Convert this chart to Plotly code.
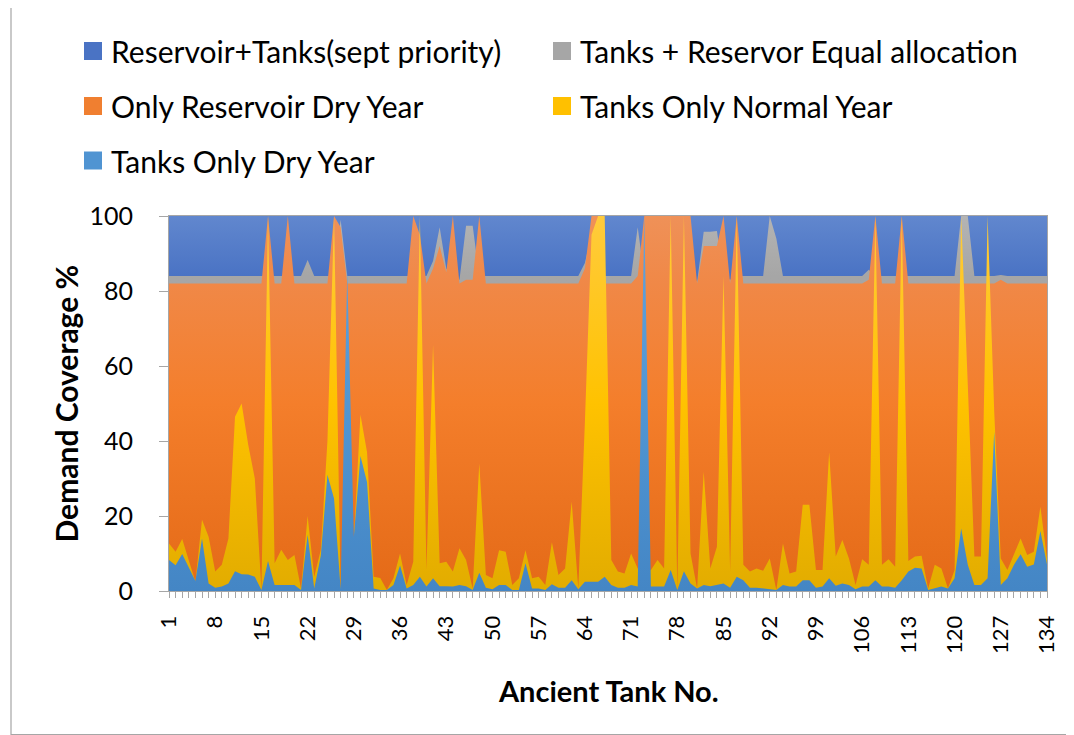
import plotly.graph_objects as go

# ---------------- data ----------------
tanks = list(range(1, 135))
tick_vals = [1, 8, 15, 22, 29, 36, 43, 50, 57, 64, 71, 78, 85, 92, 99, 106, 113, 120, 127, 134]
tick_text = [str(v) for v in tick_vals]

series_names = [
    "Reservoir+Tanks(sept priority)",
    "Tanks + Reservor Equal allocation",
    "Only Reservoir Dry Year",
    "Tanks Only Normal Year",
    "Tanks Only Dry Year",
]

reservoir_tanks_sept = [
    100, 100, 100, 100, 100, 100, 100, 100, 100, 100,
    100, 100, 100, 100, 100, 100, 100, 100, 100, 100,
    100, 100, 100, 100, 100, 100, 100, 100, 100, 100,
    100, 100, 100, 100, 100, 100, 100, 100, 100, 100,
    100, 100, 100, 100, 100, 100, 100, 100, 100, 100,
    100, 100, 100, 100, 100, 100, 100, 100, 100, 100,
    100, 100, 100, 100, 100, 100, 100, 100, 100, 100,
    100, 100, 100, 100, 100, 100, 100, 100, 100, 100,
    100, 100, 100, 100, 100, 100, 100, 100, 100, 100,
    100, 100, 100, 100, 100, 100, 100, 100, 100, 100,
    100, 100, 100, 100, 100, 100, 100, 100, 100, 100,
    100, 100, 100, 100, 100, 100, 100, 100, 100, 100,
    100, 100, 100, 100, 100, 100, 100, 100, 100, 100,
    100, 100, 100, 100,
]

tanks_reservoir_equal = [
    84, 84, 84, 84, 84, 84, 84, 84, 84, 84,
    84, 84, 84, 84, 84, 84, 84, 84, 84, 84,
    84, 88.3, 84, 84, 84, 84, 99, 84, 84, 84,
    84, 84, 84, 84, 84, 84, 84, 84, 84, 84,
    88, 97, 86, 84, 83, 97.4, 97.4, 84, 84, 84,
    84, 84, 84, 84, 84, 84, 84, 84, 84, 84,
    84, 84, 84, 87.5, 95, 84, 84, 84, 84, 84,
    84, 97, 84, 84, 84, 84, 84, 84, 84, 84,
    82.5, 95.8, 95.8, 96, 84, 83, 84, 84, 84, 84,
    84, 100, 94, 84, 84, 84, 84, 84, 84, 84,
    84, 84, 84, 84, 84, 84, 85.7, 84, 84, 84,
    84, 84, 84, 84, 84, 84, 84, 84, 84, 84,
    100, 100, 84, 84, 84, 84, 84.3, 84, 84, 84,
    84, 84, 84, 84,
]

only_reservoir_dry = [
    82, 82, 82, 82, 82, 82, 82, 82, 82, 82,
    82, 82, 82, 82, 82, 100, 82, 82, 100, 82,
    82, 82, 82, 82, 82, 100, 97, 82, 82, 82,
    82, 82, 82, 82, 82, 82, 82, 100, 95, 82,
    86, 92, 85, 100, 82, 83, 83, 100, 82, 82,
    82, 82, 82, 82, 82, 82, 82, 82, 82, 82,
    82, 82, 82, 86, 100, 100, 82, 82, 82, 82,
    82, 84, 100, 100, 100, 100, 100, 100, 100, 100,
    82, 92, 92, 92, 100, 82, 100, 82, 82, 82,
    82, 82, 82, 82, 82, 82, 82, 82, 82, 82,
    82, 82, 82, 82, 82, 82, 83, 100, 82, 82,
    82, 100, 82, 82, 82, 82, 82, 82, 82, 82,
    82, 82, 82, 82, 82, 82, 83, 82, 82, 82,
    82, 82, 82, 82,
]

tanks_only_normal = [
    12.7, 10.5, 13.9, 8.5, 2.5, 19, 14.5, 5.2, 7, 14,
    46.5, 50, 39, 30, 0.5, 100, 7.4, 11, 8.3, 9.6,
    0.7, 20, 3.8, 11, 40, 100, 0.5, 10, 14, 47,
    37, 3.8, 3.5, 0.3, 3.4, 10, 1.6, 7.8, 100, 5.6,
    65.6, 7.4, 7.8, 5.2, 11.4, 8.3, 0.7, 34, 4.3, 3.4,
    10.9, 10.5, 1.6, 3.4, 10.9, 3.4, 3.8, 1.6, 13, 4.3,
    6, 23.8, 0.7, 45, 95, 100, 100, 8.3, 5.2, 4.7,
    10, 6, 5, 5.6, 8.3, 6, 100, 0.3, 100, 10,
    0.7, 31.8, 6, 11.8, 84, 5.2, 100, 7, 5.2, 6,
    5.4, 8.7, 0.3, 12.7, 4.7, 5.2, 23, 23, 5.6, 5.6,
    37, 9.2, 13.6, 8.7, 1.6, 8.5, 7, 100, 7, 8.5,
    6.5, 100, 8, 9.2, 9.4, 0.7, 7, 6, 0.7, 5.6,
    100, 55, 9.2, 9.2, 100, 48, 8.7, 5.6, 10, 14,
    9.6, 10.5, 22.5, 8.7,
]

tanks_only_dry = [
    8.3, 6.9, 9.9, 6.5, 2.7, 14, 2, 0.9, 1.2, 2,
    5.3, 4.5, 4.4, 3.8, 0.3, 8, 1.6, 1.6, 1.6, 1.6,
    0.3, 15, 0.7, 9.5, 31, 24.7, 0.5, 85, 14.5, 36,
    29, 0.7, 0.3, 0.3, 1.6, 6.8, 0.7, 1.6, 3.8, 1.2,
    3.4, 1.3, 1.3, 1.2, 1.6, 1.3, 0.3, 4.9, 0.9, 0.5,
    1.6, 1.6, 0.3, 0.3, 7.4, 0.7, 0.7, 0.3, 1.8, 0.9,
    0.9, 2.9, 0.5, 2.5, 2.5, 2.5, 3.8, 1.6, 0.9, 0.9,
    1.6, 1.2, 100, 1.2, 1.2, 1.2, 5.6, 0.3, 5.3, 2,
    0.7, 1.6, 1.3, 1.6, 2, 0.9, 3.8, 2.9, 0.9, 0.9,
    0.7, 0.3, 0.3, 1.6, 1.2, 1.2, 2.9, 2.9, 0.9, 1.2,
    3.4, 1.4, 2, 1.6, 0.5, 1.2, 1.2, 2.9, 1.2, 1.2,
    0.9, 2.9, 5.2, 6.2, 6, 0.3, 0.7, 1.2, 0.7, 3.4,
    16.7, 7, 1.6, 1.6, 3.4, 42.5, 1.6, 3.4, 7, 9.8,
    6.5, 7.1, 16, 7.1,
]

# ---------------- styling ----------------
FONT = "Lato"
gradients = [
    [[0, "#3F68BC"], [0.84, "#4A73C4"], [1, "#6187CE"]],
    [[0, "#A0A0A0"], [0.84, "#A6A6A6"], [1, "#B4B4B4"]],
    [[0, "#E46A17"], [0.5, "#F47E2B"], [0.82, "#F08847"], [1, "#EF9158"]],
    [[0, "#E2AC00"], [0.5, "#FFC200"], [1, "#FFCB3C"]],
    [[0, "#4486C5"], [0.5, "#5196D3"], [1, "#62A3DD"]],
]
solid = ["#4A73C4", "#A6A6A6", "#F07F30", "#FFC000", "#5094D2"]

all_series = [reservoir_tanks_sept, tanks_reservoir_equal, only_reservoir_dry,
              tanks_only_normal, tanks_only_dry]

fig = go.Figure()
for name, vals, grad in zip(series_names, all_series, gradients):
    fig.add_trace(go.Scatter(
        x=tanks, y=vals, name=name, mode="lines",
        line=dict(width=0, color=grad[-1][1]),
        fill="tozeroy",
        fillgradient=dict(type="vertical", colorscale=grad, start=0, stop=100),
        showlegend=False,
        hovertemplate="%{x}: %{y}<extra>" + name + "</extra>",
    ))

# page offset (default body margin of the html page)
OFF = 8
PAGE_W, PAGE_H = 1074, 735
# plot area in page pixels
L, R, T, B = 169, 1047, 216, 591
W, H = R - L, B - T


def px(x):
    return (x - L) / W


def py(y):
    return (B - y) / H


shapes = []
annotations = []
# chart border
shapes.append(dict(type="rect", xref="paper", yref="paper",
                   x0=px(11), x1=px(1072.5), y0=py(734.5), y1=py(7.5),
                   line=dict(color="#A6A6A6", width=1.2), fillcolor="rgba(0,0,0,0)", layer="below"))

# manual legend (two columns, Excel-like)
legend_pos = [(84, 51), (553, 51), (84, 106), (553, 106), (84, 160.5)]
for (lx, ly), name, col in zip(legend_pos, series_names, solid):
    shapes.append(dict(type="rect", xref="paper", yref="paper",
                       x0=px(lx), x1=px(lx + 18), y0=py(ly + 9), y1=py(ly - 9),
                       fillcolor=col, line=dict(width=0)))
    annotations.append(dict(xref="paper", yref="paper", x=px(lx + 25), y=py(ly),
                            xanchor="left", yanchor="middle", showarrow=False,
                            text=name, font=dict(family=FONT, size=30, color="#000000")))

# axis titles
annotations.append(dict(xref="paper", yref="paper", x=px(65), y=0.5, textangle=-90,
                        xanchor="center", yanchor="middle", showarrow=False,
                        text="<b>Demand Coverage %</b>",
                        font=dict(family=FONT, size=30, color="#000000")))
annotations.append(dict(xref="paper", yref="paper", x=0.5, y=py(690),
                        xanchor="center", yanchor="middle", showarrow=False,
                        text="<b>Ancient Tank No.</b>",
                        font=dict(family=FONT, size=29, color="#000000")))

fig.update_layout(
    width=PAGE_W - OFF, height=PAGE_H - OFF,
    margin=dict(l=L - OFF, r=PAGE_W - R, t=T - OFF, b=PAGE_H - B, autoexpand=False),
    paper_bgcolor="white", plot_bgcolor="white",
    font=dict(family=FONT, color="#000000"),
    shapes=shapes, annotations=annotations,
    showlegend=False,
)
fig.update_xaxes(
    range=[1, 134], tickmode="array", tickvals=tick_vals, ticktext=tick_text,
    tickangle=-90, tickfont=dict(family=FONT, size=22, color="#000000"),
    ticks="outside", ticklen=6, tickcolor="#A6A6A6", tickwidth=1,
    minor=dict(ticks="outside", ticklen=6, tickcolor="#A6A6A6", dtick=1, tick0=1, showgrid=False),
    showline=True, linecolor="#A6A6A6", linewidth=1, mirror=True,
    showgrid=False, zeroline=False, ticklabelstandoff=9, automargin=False,
)
fig.update_yaxes(
    range=[0, 100], dtick=20, tick0=0,
    tickfont=dict(family=FONT, size=25, color="#000000"),
    ticks="outside", ticklen=9, tickcolor="#A6A6A6", tickwidth=1,
    showline=True, linecolor="#A6A6A6", linewidth=1, mirror=True,
    showgrid=True, gridcolor="#D9D9D9", zeroline=False,
    ticklabelstandoff=21, automargin=False,
)

fig.write_html("out.html")
